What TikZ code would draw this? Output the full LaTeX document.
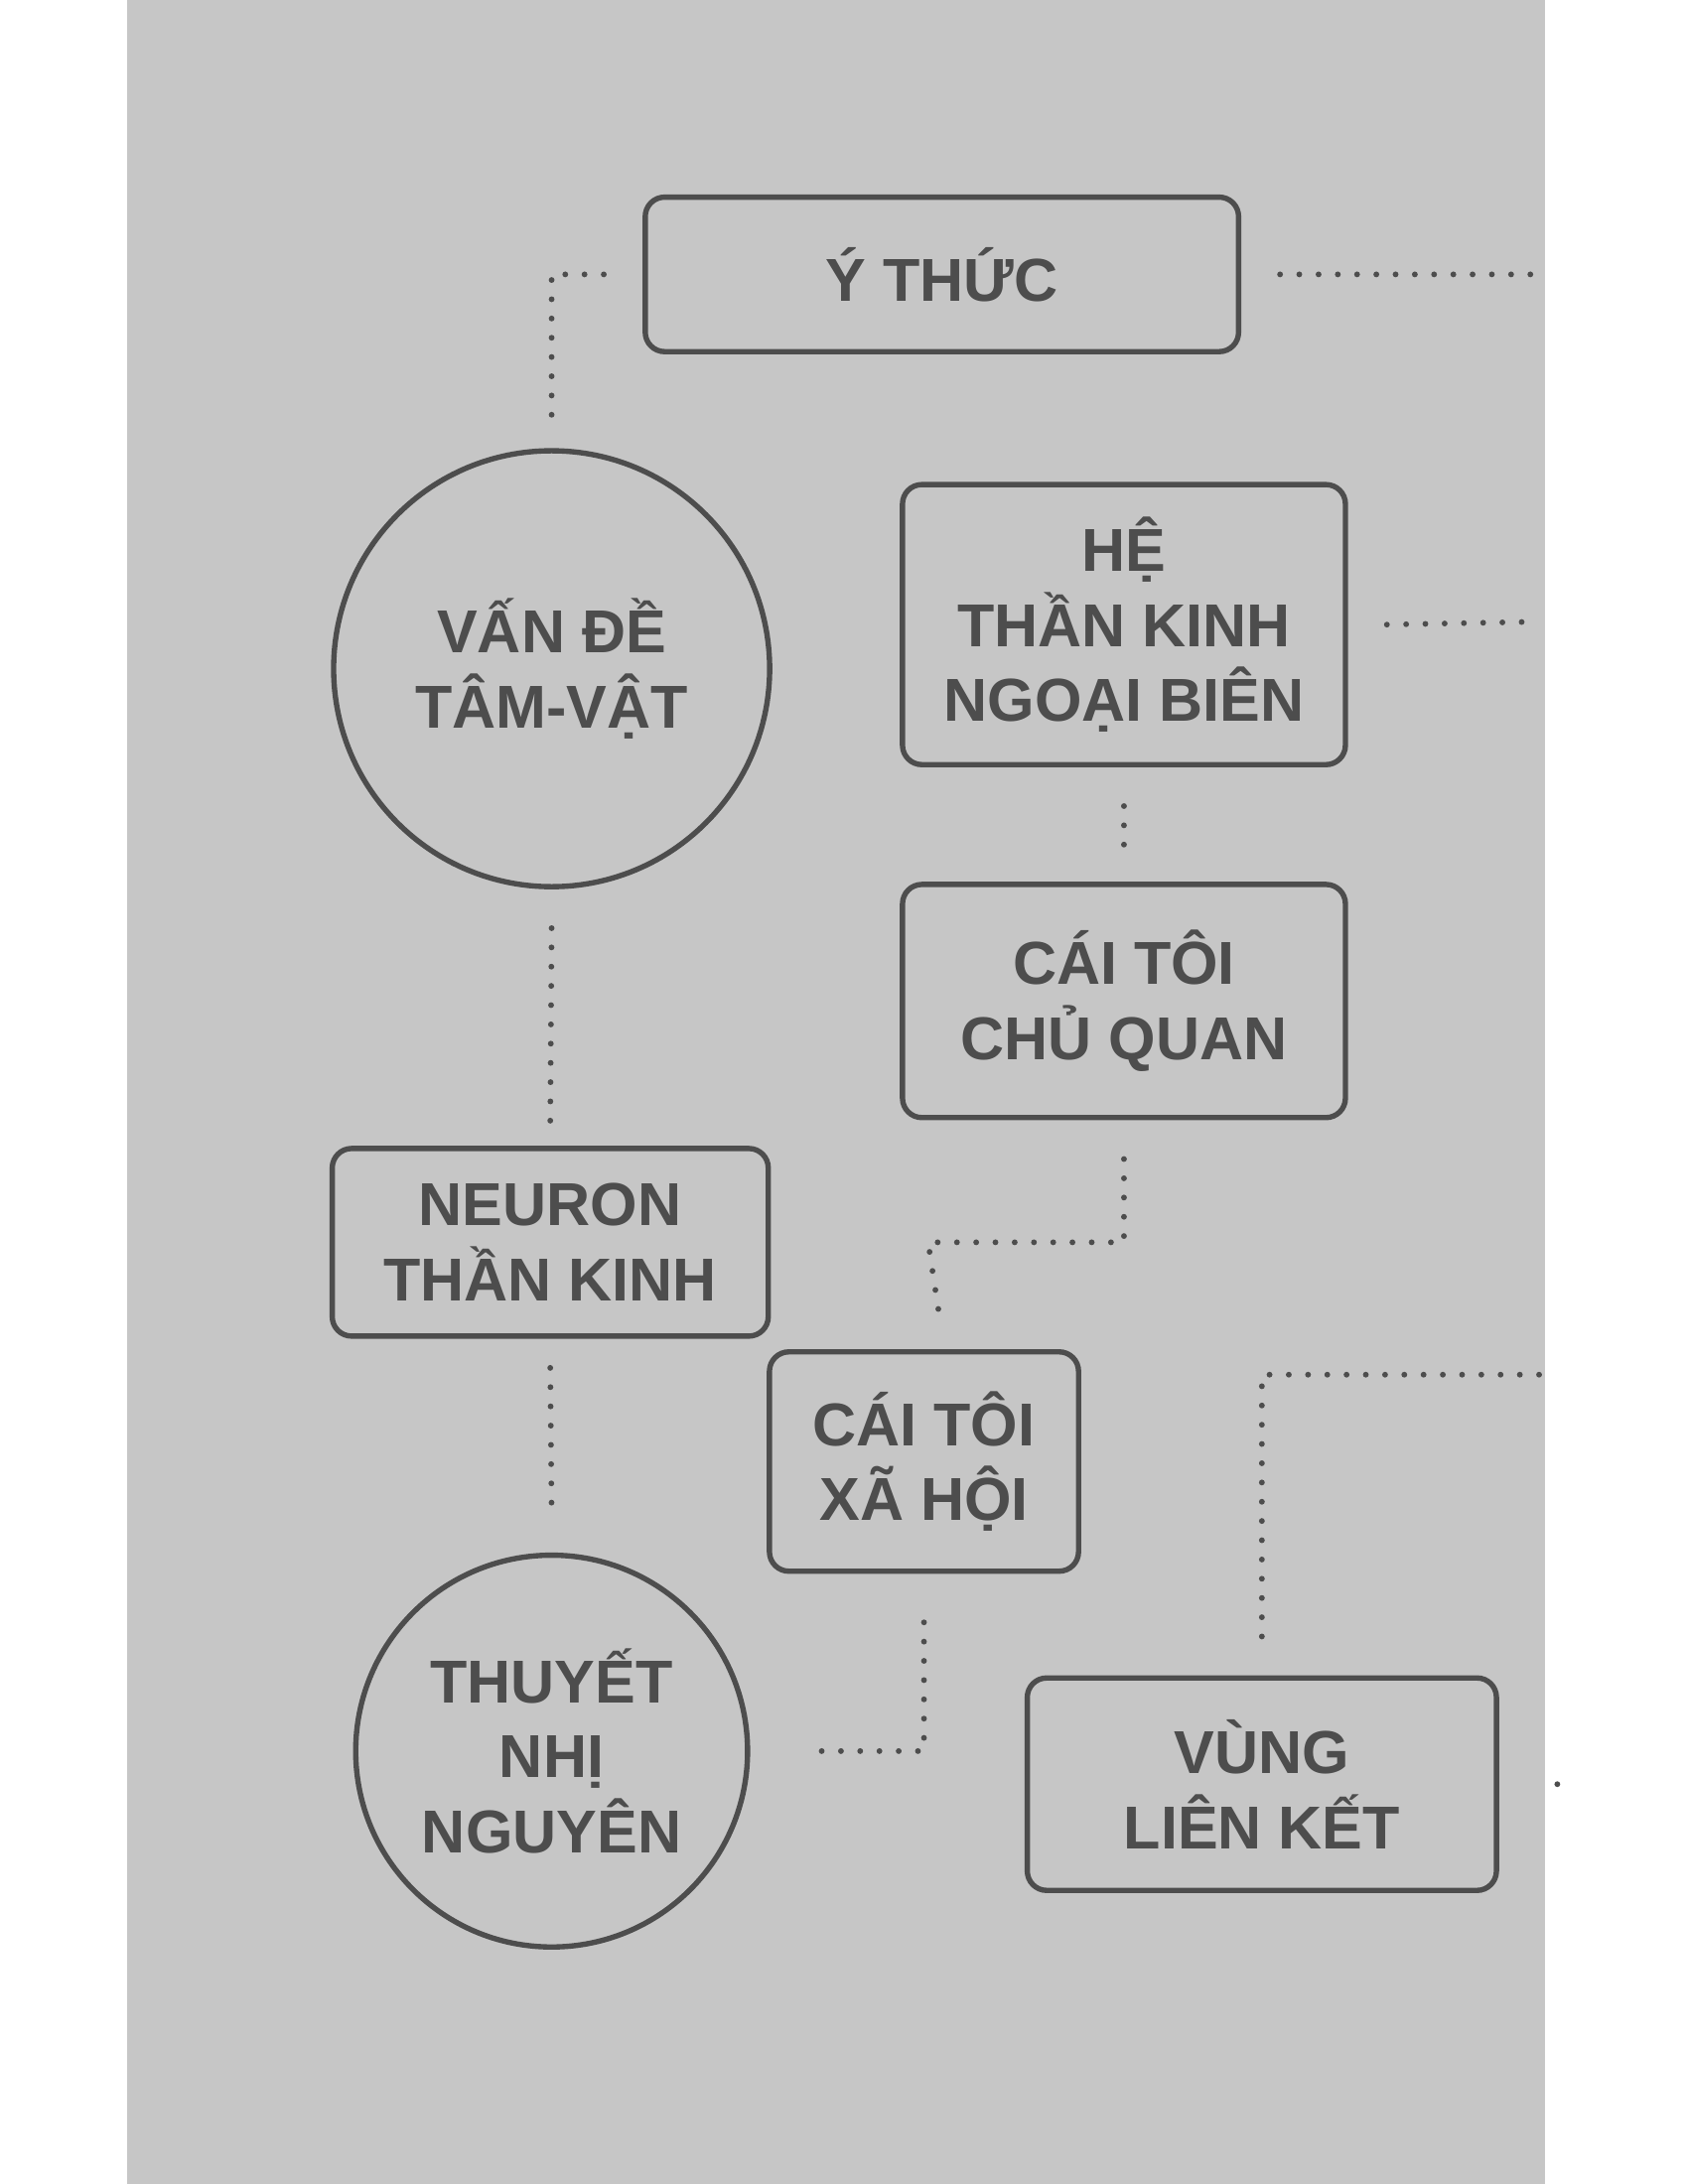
\documentclass[tikz,border=0pt]{standalone}
\usepackage{fontspec}
\setmainfont{Liberation Sans}
\usepackage{tikz}
\usetikzlibrary{positioning}
\definecolor{bggray}{HTML}{C6C6C6}
\definecolor{ink}{HTML}{4D4D4D}
\tikzset{
  box/.style={draw=ink,line width=1.1pt,rounded corners=4pt,align=center,
    text=ink,font=\bfseries\fontsize{12.5}{15.5}\selectfont,inner sep=0pt},
  ring/.style={draw=ink,line width=1.1pt,circle,align=center,
    text=ink,font=\bfseries\fontsize{12.5}{15.5}\selectfont,inner sep=0pt},
  dotted link/.style={draw=ink,line width=1.2pt,line cap=round,
    dash pattern=on 0pt off 3.97pt}
}
\begin{document}
\begin{tikzpicture}[x=0.01cm,y=-0.01cm]
        \useasboundingbox (0,0) rectangle (1224,1584);
        \fill[bggray] (92,0) rectangle (1120,1584);

        \node[box,minimum width=4.3cm,minimum height=1.12cm] (ythuc) at (683,199) {Ý THỨC};
        \node[ring,minimum size=3.16cm] (tamvat) at (400,485) {VẤN ĐỀ\\TÂM-VẬT};
        \node[box,minimum width=3.21cm,minimum height=2.03cm] (ngoaibien) at (815,453) {HỆ\\THẦN KINH\\NGOẠI BIÊN};
        \node[box,minimum width=3.21cm,minimum height=1.69cm] (chuquan) at (815,726) {CÁI TÔI\\CHỦ QUAN};
        \node[box,minimum width=3.16cm,minimum height=1.36cm] (neuron) at (399,901) {NEURON\\THẦN KINH};
        \node[box,minimum width=2.24cm,minimum height=1.59cm] (xahoi) at (670,1060) {CÁI TÔI\\XÃ HỘI};
        \node[ring,minimum size=2.84cm] (nhinguyen) at (400,1270) {THUYẾT\\NHỊ\\NGUYÊN};
        \node[box,minimum width=3.4cm,minimum height=1.54cm] (vung) at (915,1294) {VÙNG\\LIÊN KẾT};

        \coordinate (e1) at (1116,199);
        \coordinate (e2) at (1110,451);
        \coordinate (e3) at (1118,997);
        \coordinate (e4) at (1120,1296);

        \draw[dotted link] ([xshift=-8pt]ythuc.west) -| ([yshift=6pt]tamvat.north);
        \draw[dotted link] ([xshift=8pt]ythuc.east) -- (e1);
        \draw[dotted link] ([xshift=8pt]ngoaibien.east) -- (e2);
        \draw[dotted link] ([yshift=-8pt]ngoaibien.south) -- ([yshift=6pt]chuquan.north);
        \draw[dotted link] ([yshift=-8pt]chuquan.south) |- (673,901) -- ([xshift=3pt,yshift=8pt]xahoi.north);
        \draw[dotted link] ([yshift=-8pt]tamvat.south) -- ([yshift=5pt]neuron.north);
        \draw[dotted link] ([yshift=-6pt]neuron.south) -- ([yshift=8pt]nhinguyen.north);
        \draw[dotted link] ([yshift=-10pt]xahoi.south) |- ([xshift=12pt]nhinguyen.east);
        \draw[dotted link] ([yshift=8pt]vung.north) |- (e3);
        \draw[dotted link] ([xshift=12pt]vung.east) -- (e4);
      \end{tikzpicture}
\end{document}
